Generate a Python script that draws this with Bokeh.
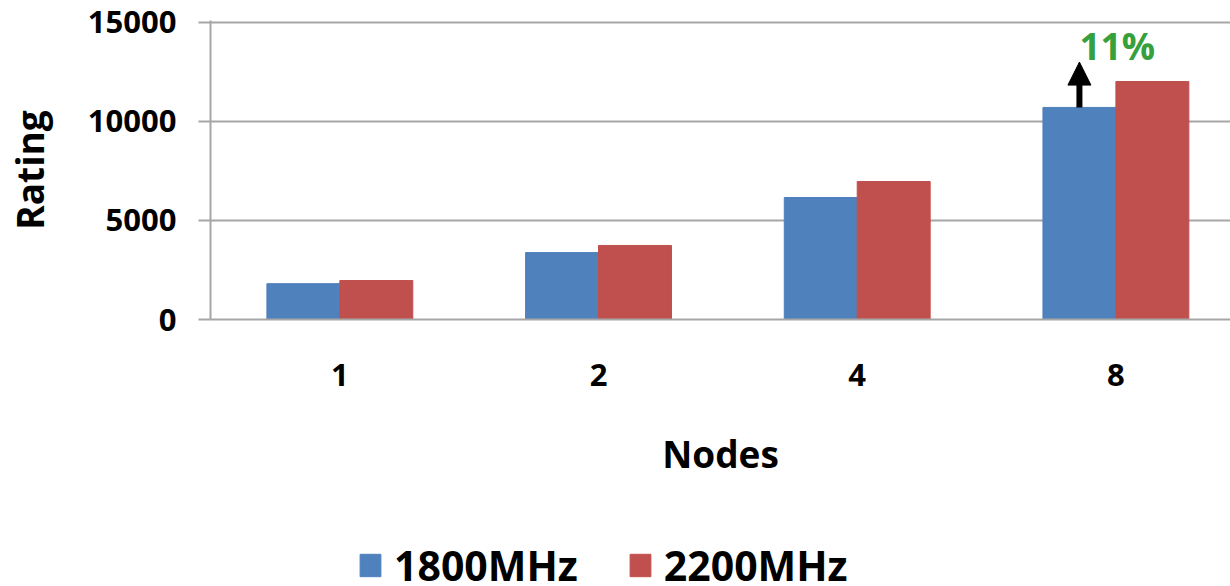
from bokeh.plotting import figure
from bokeh.layouts import column
from bokeh.models import (ColumnDataSource, FixedTicker, Legend, LegendItem,
                          Arrow, NormalHead, Label, Range1d)
from bokeh.embed import file_html
from bokeh.resources import INLINE

nodes = ["1", "2", "4", "8"]
mhz1800 = [1810, 3380, 6160, 10710]
mhz2200 = [1970, 3740, 6970, 12020]
series_names = ["1800MHz", "2200MHz"]
gain_label = "11%"
arrow_top = 13000

BLUE = "#4f81bd"
RED = "#c0504d"
GRID = "#a6a6a6"
FONT = "Open Sans"

bar_w = 0.282
centers = [i + 0.5 for i in range(len(nodes))]

src = ColumnDataSource(dict(
    xb=[c - bar_w / 2 for c in centers],
    xr=[c + bar_w / 2 for c in centers],
    b=mhz1800, r=mhz2200,
))

p = figure(width=1230, height=500, output_backend="svg", toolbar_location=None,
           x_range=Range1d(0, 3.943), y_range=Range1d(0, 15100),
           min_border_left=210, min_border_right=0, min_border_top=20,
           min_border_bottom=181)
p.outline_line_color = None
p.background_fill_color = "white"
p.border_fill_color = "white"

rb = p.vbar(x="xb", top="b", width=bar_w, source=src, fill_color=BLUE, line_color=BLUE)
rr = p.vbar(x="xr", top="r", width=bar_w, source=src, fill_color=RED, line_color=RED)

# axes
p.xgrid.visible = False
p.ygrid.grid_line_color = GRID
p.ygrid.grid_line_width = 2
p.yaxis.ticker = FixedTicker(ticks=[0, 5000, 10000, 15000])
p.yaxis.major_label_text_font = FONT
p.yaxis.major_label_text_font_style = "bold"
p.yaxis.major_label_text_font_size = "31px"
p.yaxis.major_label_text_color = "black"
p.yaxis.major_tick_out = 12
p.yaxis.major_tick_in = 0
p.yaxis.major_tick_line_color = GRID
p.yaxis.major_tick_line_width = 2
p.yaxis.minor_tick_line_color = None
p.yaxis.axis_line_color = GRID
p.yaxis.axis_line_width = 2
p.yaxis.major_label_standoff = 22
p.yaxis.axis_label = "Rating"
p.yaxis.axis_label_text_font = FONT
p.yaxis.axis_label_text_font_style = "bold"
p.yaxis.axis_label_text_font_size = "37px"
p.yaxis.axis_label_text_color = "black"
p.yaxis.axis_label_standoff = 30

p.xaxis.ticker = FixedTicker(ticks=centers)
p.xaxis.major_label_overrides = {c: n for c, n in zip(centers, nodes)}
p.xaxis.major_label_text_font = FONT
p.xaxis.major_label_text_font_style = "bold"
p.xaxis.major_label_text_font_size = "31px"
p.xaxis.major_label_text_color = "black"
p.xaxis.major_tick_out = 0
p.xaxis.major_tick_in = 0
p.xaxis.minor_tick_line_color = None
p.xaxis.axis_line_color = GRID
p.xaxis.axis_line_width = 2
p.xaxis.major_label_standoff = 44
p.xaxis.axis_label = "Nodes"
p.xaxis.axis_label_text_font = FONT
p.xaxis.axis_label_text_font_style = "bold"
p.xaxis.axis_label_text_font_size = "37px"
p.xaxis.axis_label_text_color = "black"
p.xaxis.axis_label_standoff = 39

# annotation: arrow + percentage
last = len(nodes) - 1
ax = centers[last] - bar_w / 2
p.add_layout(Arrow(x_start=ax, y_start=mhz1800[last], x_end=ax, y_end=arrow_top,
                   line_color="black", line_width=6,
                   end=NormalHead(size=23, fill_color="black", line_color="black")))
p.add_layout(Label(x=ax, y=arrow_top, text=gain_label, x_offset=0, y_offset=17,
                   text_font=FONT, text_font_style="bold", text_font_size="37px",
                   text_color="#36a03c", text_align="left", text_baseline="alphabetic"))

# legend strip (its renderers sit outside its visible range; only the legend shows)
lg = figure(width=1230, height=86, output_backend="svg", toolbar_location=None,
            x_range=Range1d(0, 1), y_range=Range1d(0, 1),
            x_axis_location=None, y_axis_location=None,
            min_border_left=0, min_border_right=0, min_border_top=0, min_border_bottom=0)
lg.outline_line_color = None
lg.xgrid.visible = False
lg.ygrid.visible = False
offscreen = ColumnDataSource(dict(x=[5], top=[5]))
lb = lg.vbar(x="x", top="top", width=0.1, source=offscreen, fill_color=BLUE, line_color=BLUE)
lr = lg.vbar(x="x", top="top", width=0.1, source=offscreen, fill_color=RED, line_color=RED)
legend = Legend(items=[LegendItem(label=series_names[0], renderers=[lb]),
                       LegendItem(label=series_names[1], renderers=[lr])],
                orientation="horizontal", location=(147, -7),
                glyph_width=26, glyph_height=28, label_standoff=11, spacing=49,
                label_text_font=FONT, label_text_font_style="bold",
                label_text_font_size="41px", label_text_color="black",
                border_line_color=None, background_fill_alpha=0,
                padding=0, margin=0)
lg.add_layout(legend, "center")

layout = column(p, lg, spacing=0)
open("out.html", "w").write(file_html(layout, INLINE))
